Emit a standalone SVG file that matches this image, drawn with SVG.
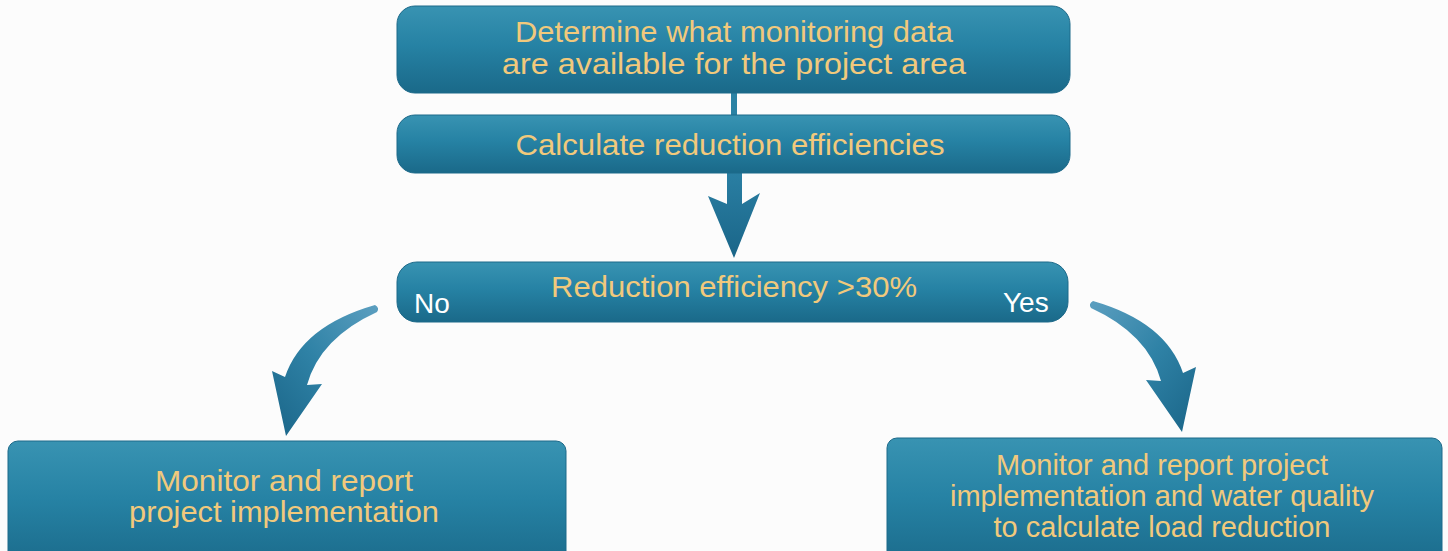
<svg xmlns="http://www.w3.org/2000/svg" width="1448" height="551" viewBox="0 0 1448 551">
  <defs>
    <linearGradient id="boxGrad" x1="0" y1="0" x2="0" y2="1">
      <stop offset="0" stop-color="#3893b2"/>
      <stop offset="0.45" stop-color="#2682a4"/>
      <stop offset="1" stop-color="#1a6989"/>
    </linearGradient>
    <linearGradient id="arrowGradR" x1="0" y1="0" x2="1" y2="1">
      <stop offset="0" stop-color="#5c9fc0"/>
      <stop offset="0.5" stop-color="#2f82a6"/>
      <stop offset="1" stop-color="#1a6588"/>
    </linearGradient>
    <linearGradient id="arrowGradL" x1="1" y1="0" x2="0" y2="1">
      <stop offset="0" stop-color="#5c9fc0"/>
      <stop offset="0.5" stop-color="#2f82a6"/>
      <stop offset="1" stop-color="#1a6588"/>
    </linearGradient>
    <linearGradient id="arrowGradV" x1="0" y1="0" x2="0" y2="1">
      <stop offset="0" stop-color="#2a7fa3"/>
      <stop offset="1" stop-color="#1a6588"/>
    </linearGradient>
  </defs>
  <style>
    .box { fill: url(#boxGrad); stroke: #1d6a8a; stroke-width: 1; }
    .lbl { font-family: "Liberation Sans", Arial, sans-serif; font-size: 30px; fill: #f1c97c; text-anchor: middle; }
    .lbl2 { font-family: "Liberation Sans", Arial, sans-serif; font-size: 29px; fill: #f1c97c; text-anchor: middle; }
    .yn { font-family: "Liberation Sans", Arial, sans-serif; font-size: 28px; fill: #ffffff; }
  </style>
  <rect x="0" y="0" width="1448" height="551" fill="#fcfcfc"/>

  <g id="connectors">
    <rect x="731" y="92" width="6" height="24" fill="#2a82a4"/>
    <path d="M727,173 L742,173 L742,204 L760,193 L734,258 L708,196 L727,204 Z" fill="url(#arrowGradV)"/>
    <path d="M1093,301 Q1166,322 1183,373 L1196,367 L1182,432 L1146,380 L1161,381 Q1148,334 1091,308 Q1088,304 1093,301 Z" fill="url(#arrowGradR)"/>
    <path d="M375,305 Q302,326 285,377 L272,371 L286,436 L322,384 L307,385 Q320,338 377,312 Q380,308 375,305 Z" fill="url(#arrowGradL)"/>
  </g>

  <g id="node-determine">
    <rect class="box" x="397" y="6" width="673" height="87" rx="18" ry="18"/>
    <text class="lbl2" x="734" y="42" textLength="438" lengthAdjust="spacingAndGlyphs">Determine what monitoring data</text>
    <text class="lbl2" x="734" y="74" textLength="464" lengthAdjust="spacingAndGlyphs">are available for the project area</text>
  </g>

  <g id="node-calculate">
    <rect class="box" x="397" y="115" width="673" height="58" rx="18" ry="18"/>
    <text class="lbl" x="730" y="155" textLength="429" lengthAdjust="spacingAndGlyphs">Calculate reduction efficiencies</text>
  </g>

  <g id="node-decision">
    <rect class="box" x="397" y="262" width="671" height="60" rx="20" ry="20"/>
    <text class="lbl" x="734" y="297" textLength="366" lengthAdjust="spacingAndGlyphs">Reduction efficiency &gt;30%</text>
    <text class="yn" x="414" y="313">No</text>
    <text class="yn" x="1003" y="312">Yes</text>
  </g>

  <g id="node-no">
    <rect class="box" x="8" y="441" width="558" height="130" rx="10" ry="10"/>
    <text class="lbl2" x="284" y="491" textLength="258" lengthAdjust="spacingAndGlyphs">Monitor and report</text>
    <text class="lbl2" x="284" y="522" textLength="310" lengthAdjust="spacingAndGlyphs">project implementation</text>
  </g>

  <g id="node-yes">
    <rect class="box" x="887" y="438" width="555" height="133" rx="10" ry="10"/>
    <text class="lbl2" x="1162" y="475">Monitor and report project</text>
    <text class="lbl2" x="1162" y="506">implementation and water quality</text>
    <text class="lbl2" x="1162" y="537">to calculate load reduction</text>
  </g>
</svg>
